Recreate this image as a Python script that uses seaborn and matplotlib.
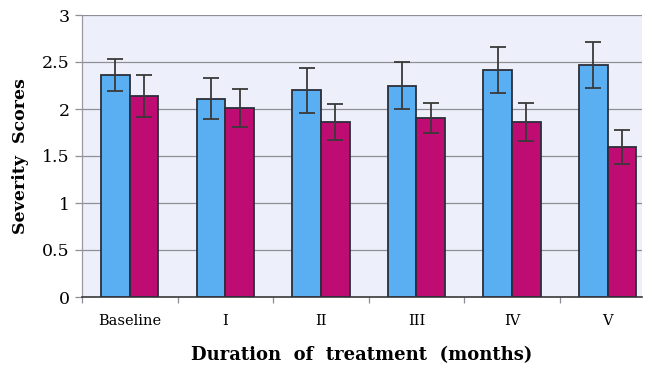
import matplotlib
matplotlib.use("Agg")
import matplotlib.pyplot as plt
import seaborn as sns
import pandas as pd
import numpy as np

# Severity scores per visit, two treatment arms
visits = ["Baseline", "I", "II", "III", "IV", "V"]
arm_names = ["Arm A", "Arm B"]
arm_a_mean = [2.36, 2.11, 2.20, 2.25, 2.41, 2.47]
arm_a_err = [0.17, 0.22, 0.24, 0.245, 0.245, 0.245]
arm_b_mean = [2.14, 2.01, 1.86, 1.90, 1.86, 1.60]
arm_b_err = [0.22, 0.205, 0.19, 0.16, 0.20, 0.18]
y_ticks = [0, 0.5, 1, 1.5, 2, 2.5, 3]
y_tick_labels = ["0", "0.5", "1", "1.5", "2", "2.5", "3"]

df = pd.DataFrame({
    "visit": visits * 2,
    "arm": [arm_names[0]] * len(visits) + [arm_names[1]] * len(visits),
    "score": arm_a_mean + arm_b_mean,
    "err": arm_a_err + arm_b_err,
})

sns.set_theme(style="white")
plt.rcParams["font.family"] = ["DejaVu Serif"]
plt.rcParams["text.color"] = "black"
plt.rcParams["axes.labelcolor"] = "black"
plt.rcParams["xtick.labelcolor"] = "black"
plt.rcParams["ytick.labelcolor"] = "black"

fig = plt.figure(figsize=(6.45, 3.70), dpi=100)
ax = fig.add_axes([82 / 645, 1 - 297 / 370, 560 / 645, 282 / 370])
ax.set_facecolor("#edf0fa")

palette = {arm_names[0]: "#5aaef2", arm_names[1]: "#be0c72"}
sns.barplot(data=df, x="visit", y="score", hue="arm", order=visits,
            hue_order=arm_names, palette=palette, width=0.6, errorbar=None,
            edgecolor="#2b2f3a", linewidth=1.3, saturation=1, legend=False,
            ax=ax, zorder=3)

# Error bars placed at the centre of each drawn bar
errs = {arm_names[0]: arm_a_err, arm_names[1]: arm_b_err}
for container, arm in zip(ax.containers, arm_names):
    xs = [p.get_x() + p.get_width() / 2 for p in container.patches]
    hs = [p.get_height() for p in container.patches]
    ax.errorbar(xs, hs, yerr=errs[arm], fmt="none", ecolor="#3a3a3a",
                elinewidth=1.3, capsize=6, capthick=1.3, zorder=4)

ax.set_ylim(0, 3)
ax.set_xlim(-0.5, 5.36)
ax.set_yticks(y_ticks)
ax.set_yticklabels(y_tick_labels, fontsize=12.5)
ax.yaxis.grid(True, color="#8e8e96", linewidth=0.9, zorder=0)
ax.tick_params(axis="y", which="major", direction="out", length=5,
               color="#8e8e96", width=0.9, pad=4, left=True)

# Category labels without ticks; small ticks at group boundaries
ax.set_xticks(range(len(visits)))
ax.set_xticklabels(visits, fontsize=10.5)
ax.tick_params(axis="x", which="major", length=0, pad=12)
ax.set_xticks(np.arange(-0.5, len(visits) - 0.5, 1.0), minor=True)
ax.tick_params(axis="x", which="minor", direction="out", length=4,
               color="#8e8e96", width=0.9, bottom=True)

for side in ["top", "right"]:
    ax.spines[side].set_visible(False)
ax.spines["left"].set_color("#9a9aa2")
ax.spines["left"].set_linewidth(0.9)
ax.spines["bottom"].set_color("#3a3a3a")
ax.spines["bottom"].set_linewidth(1.2)

ax.set_xlabel("Duration  of  treatment  (months)", fontsize=13,
              fontweight="bold", labelpad=13)
ax.set_ylabel("Severity  Scores", fontsize=12.5, fontweight="bold", labelpad=9)

fig.savefig("out.png", dpi=100)
